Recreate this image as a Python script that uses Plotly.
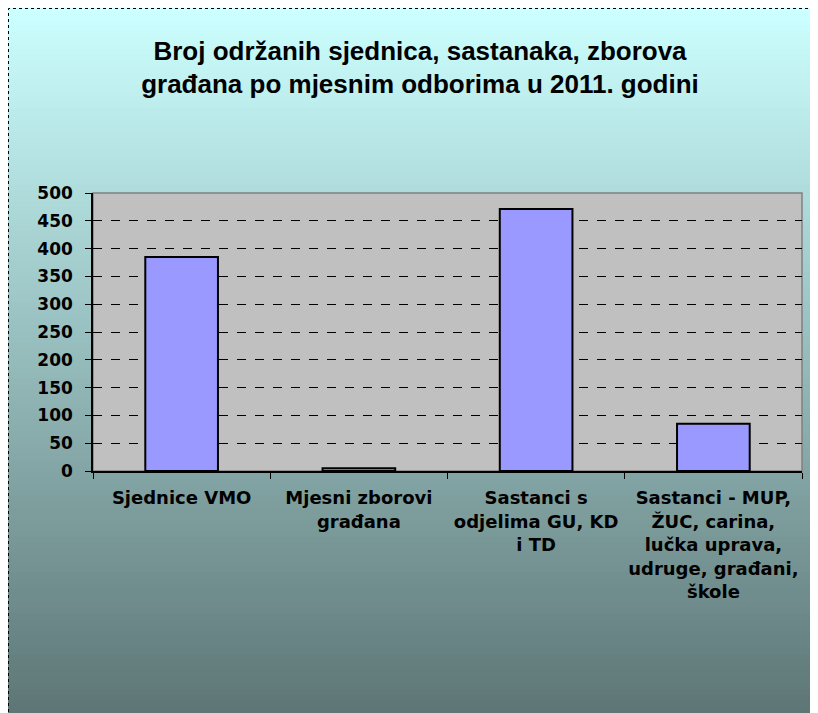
import plotly.graph_objects as go

categories = ["Sjednice VMO", "Mjesni zborovi<br>građana", "Sastanci s<br>odjelima GU, KD<br>i TD",
              "Sastanci - MUP,<br>ŽUC, carina,<br>lučka uprava,<br>udruge, građani,<br>škole"]
values = [385, 5, 471, 85]
y_ticks = [0, 50, 100, 150, 200, 250, 300, 350, 400, 450, 500]

W, H = 810, 705
L, R, T, B = 85, 16, 185, 242
PW, PH = W - L - R, H - T - B


def px(x):
    return (x - L) / PW


def py(y):
    return (H - y - B) / PH


fig = go.Figure(go.Bar(x=categories, y=values,
                       marker=dict(color="#9999FF", line=dict(color="black", width=2)),
                       width=0.41))

# gradient background
shapes = []
top = (0xCC, 0xFF, 0xFF)
bot = (0x5E, 0x76, 0x76)
n = 120
for i in range(n):
    t = i / (n - 1)
    c = tuple(round(top[k] + (bot[k] - top[k]) * t) for k in range(3))
    ya = H * i / n
    yb = H * (i + 1) / n + 1
    shapes.append(dict(type="rect", xref="paper", yref="paper", x0=px(-5), x1=px(W + 5),
                       y0=py(yb), y1=py(ya),
                       fillcolor="rgb(%d,%d,%d)" % c, line=dict(width=0), layer="below"))
# outer dotted border
shapes.append(dict(type="rect", xref="paper", yref="paper",
                   x0=px(0.5), x1=px(W + 20), y0=py(H + 20), y1=py(0.5),
                   line=dict(color="black", width=1, dash="dot"), layer="below"))
# plot area
shapes.append(dict(type="rect", xref="paper", yref="paper", x0=0, x1=1, y0=0, y1=1,
                   fillcolor="#C0C0C0", line=dict(color="#808080", width=1.5), layer="below"))

fig.update_layout(
    width=W, height=H,
    margin=dict(l=L, r=R, t=T, b=B, autoexpand=False),
    paper_bgcolor="rgba(0,0,0,0)",
    plot_bgcolor="rgba(0,0,0,0)",
    shapes=shapes,
    showlegend=False,
    title=dict(text="<b>Broj održanih sjednica, sastanaka, zborova<br>građana po mjesnim odborima u 2011. godini</b>",
               x=412 / W, xref="container", xanchor="center", y=1 - 51.5 / H, yanchor="middle",
               font=dict(family="Liberation Sans, Arial", size=26, color="black")),
    font=dict(family="DejaVu Sans, Arial", color="black"),
    bargap=0.59,
)
fig.update_xaxes(type="category", showline=True, linecolor="black", linewidth=1.5,
                 ticks="outside", tickson="boundaries", ticklen=6, tickcolor="black",
                 ticklabelstandoff=10, tickangle=0, automargin=False,
                 tickfont=dict(family="DejaVu Sans", size=18, weight="bold"), showgrid=False)
fig.update_yaxes(range=[0, 500], tickvals=y_ticks, showline=True, linecolor="black", linewidth=1.5,
                 ticks="outside", ticklen=6, tickcolor="black", ticklabelstandoff=9, automargin=False,
                 tickfont=dict(family="DejaVu Sans", size=17, weight="bold"),
                 showgrid=True, gridcolor="black", griddash="dash", gridwidth=1, zeroline=False)

fig.write_html("out.html")
